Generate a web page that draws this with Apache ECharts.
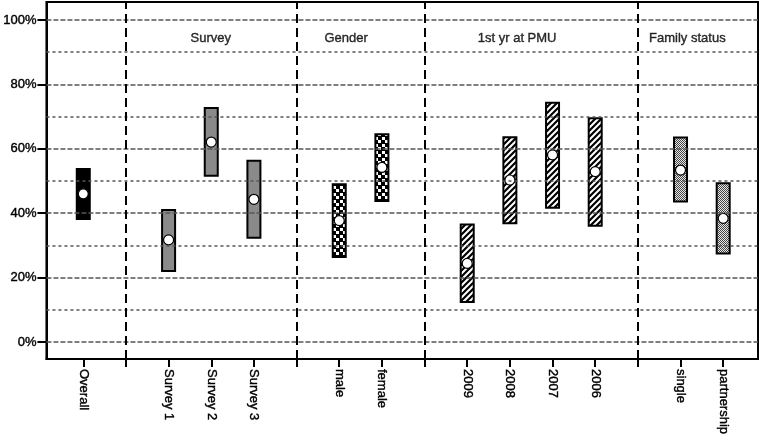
<!DOCTYPE html>
<html>
<head>
    <meta charset="utf-8">
    <script src="https://cdn.jsdelivr.net/npm/echarts@6/dist/echarts.min.js"></script>
    <style>
        html, body { margin: 0; padding: 0; background: #fff; }
        #main { width: 762px; height: 445px; }
    </style>
</head>
<body>
<div id="main"></div>
<script type="text/javascript">
    // categories and where they sit on the x scale (gaps are the group separators)
    var categories = ['Overall', 'Survey 1', 'Survey 2', 'Survey 3', 'male', 'female',
                      '2009', '2008', '2007', '2006', 'single', 'partnership'];
    var catPos   = [1, 3, 4, 5, 7, 8, 10, 11, 12, 13, 15, 16];
    var catGroup = ['overall', 'survey', 'survey', 'survey', 'gender', 'gender',
                    'year', 'year', 'year', 'year', 'family', 'family'];
    // confidence interval bounds and point estimate (%)
    var lower = [38.2, 22.0, 51.6, 32.4, 26.4, 43.8, 12.4, 36.9, 41.7, 36.1, 43.6, 27.5];
    var upper = [53.7, 41.0, 72.7, 56.3, 49.0, 64.5, 36.5, 63.6, 74.3, 69.5, 63.5, 49.3];
    var point = [46.0, 31.7, 62.1, 44.3, 37.7, 54.2, 24.4, 50.3, 58.1, 52.9, 53.4, 38.4];

    var separators = [2, 6, 9, 14];
    var groupNames = ['Survey', 'Gender', '1st yr at PMU', 'Family status'];
    var groupPos   = [3.99, 7.16, 11.17, 15.16];
    var yTicks = [0, 20, 40, 60, 80, 100];
    var gridVals = [0, 10, 20, 30, 40, 50, 60, 70, 80, 90, 100];

    var FONT = "'Liberation Sans', Arial, sans-serif";
    // the scanned original has heavy text, thicken it a little
    var TXT = {color: '#000', fontFamily: FONT, fontSize: 13,
               textBorderColor: '#000', textBorderWidth: 0.4};

    function makeCanvas(w, h, draw) {
        var c = document.createElement('canvas');
        c.width = w; c.height = h;
        draw(c.getContext('2d'));
        return {image: c, repeat: 'repeat'};
    }
    var fills = {
        overall: '#000',
        survey: '#8a8a8a',
        gender: makeCanvas(7, 7, function (g) {
            g.fillStyle = '#000'; g.fillRect(0, 0, 7, 7);
            g.fillStyle = '#fff'; g.fillRect(0, 0, 3, 3); g.fillRect(4, 4, 3, 3);
        }),
        year: makeCanvas(6, 6, function (g) {
            g.fillStyle = '#fff'; g.fillRect(0, 0, 6, 6);
            g.strokeStyle = '#000'; g.lineWidth = 2.2;
            g.beginPath();
            g.moveTo(-1, 7); g.lineTo(7, -1);
            g.moveTo(-4, 4); g.lineTo(4, -4);
            g.moveTo(2, 10); g.lineTo(10, 2);
            g.stroke();
        }),
        family: makeCanvas(2, 2, function (g) {
            g.fillStyle = '#e8e8e8'; g.fillRect(0, 0, 2, 2);
            g.fillStyle = '#444'; g.fillRect(0, 0, 1, 1); g.fillRect(1, 1, 1, 1);
        })
    };

    var barData = [], pointData = [];
    for (var i = 0; i < categories.length; i++) {
        barData.push([catPos[i], lower[i], upper[i], i]);
        pointData.push([catPos[i], point[i]]);
    }
    var labelData = [];
    for (var j = 0; j < groupNames.length; j++) {
        labelData.push([groupPos[j], 94.4, groupNames[j]]);
    }

    var gridLines = gridVals.map(function (v) {
        var major = v % 20 === 0;
        return {
            yAxis: v,
            lineStyle: {color: '#555', width: 1.5, type: major ? [5, 2] : [3, 3]}
        };
    });
    var sepLines = separators.map(function (v) {
        return {xAxis: v, lineStyle: {color: '#000', width: 2, type: [9, 5]}};
    });

    var tickPos = catPos.concat(separators);

    var myChart = echarts.init(document.getElementById('main'));
    var option = {
        animation: false,
        grid: {left: 43, right: 4, top: 2, bottom: 86, show: true,
               borderColor: '#000', borderWidth: 2, backgroundColor: 'transparent'},
        xAxis: {
            type: 'value', min: 0.137, max: 16.816,
            splitLine: {show: false},
            axisLine: {onZero: false, lineStyle: {color: '#000', width: 2}},
            axisTick: {show: true, inside: false, customValues: tickPos, length: 8,
                       lineStyle: {color: '#000', width: 2}},
            axisLabel: Object.assign({
                customValues: catPos, rotate: -90, margin: 10,
                formatter: function (v) {
                    var k = catPos.indexOf(Math.round(v));
                    return k >= 0 ? categories[k] : '';
                }
            }, TXT)
        },
        yAxis: {
            type: 'value', min: -5.3, max: 105.6,
            splitLine: {show: false},
            axisLine: {show: true, onZero: false, lineStyle: {color: '#000', width: 2}},
            axisTick: {show: true, inside: false, customValues: yTicks, length: 9,
                       lineStyle: {color: '#000', width: 2}},
            axisLabel: Object.assign({
                customValues: yTicks, margin: 10,
                formatter: '{value}%'
            }, TXT)
        },
        series: [
            {
                type: 'scatter', data: [], z: 1, silent: true,
                markLine: {symbol: 'none', silent: true, label: {show: false},
                           data: gridLines.concat(sepLines)}
            },
            {
                type: 'custom', z: 3, data: barData,
                renderItem: function (params, api) {
                    var x = api.value(0);
                    var top = api.coord([x, api.value(2)]);
                    var bot = api.coord([x, api.value(1)]);
                    var w = 13;
                    return {
                        type: 'rect',
                        shape: {x: top[0] - w / 2, y: top[1], width: w, height: bot[1] - top[1]},
                        style: {fill: fills[catGroup[api.value(3)]], stroke: '#000', lineWidth: 2}
                    };
                }
            },
            {
                type: 'scatter', z: 4, data: pointData, symbol: 'circle', symbolSize: 10,
                itemStyle: {color: '#fff', borderColor: '#000', borderWidth: 1.2, opacity: 1}
            },
            {
                type: 'scatter', z: 5, data: labelData, symbolSize: 0, silent: true,
                label: Object.assign({show: true, position: 'inside',
                        formatter: function (p) { return p.value[2]; }}, TXT)
            }
        ]
    };
    myChart.setOption(option);
</script>
</body>
</html>
